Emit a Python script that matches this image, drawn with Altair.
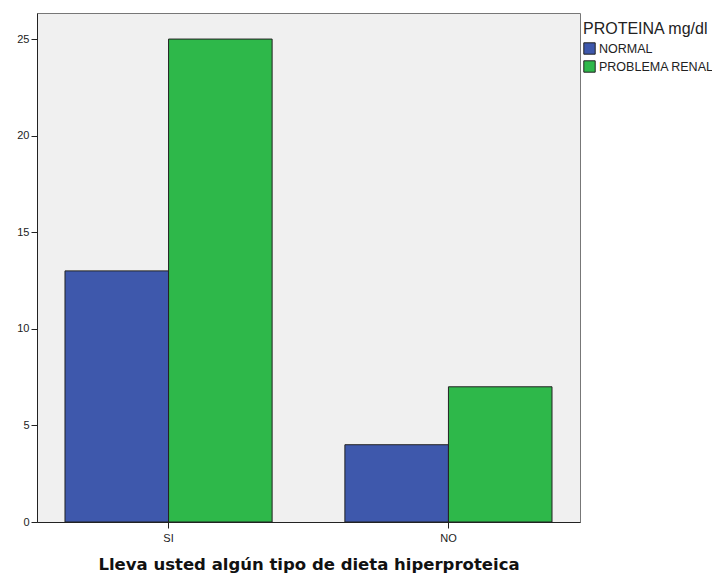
import altair as alt
import pandas as pd

categories = ["SI", "SI", "NO", "NO"]
groups = ["NORMAL", "PROBLEMA RENAL", "NORMAL", "PROBLEMA RENAL"]
counts = [13, 25, 4, 7]

df = pd.DataFrame({"dieta": categories, "proteina": groups, "recuento": counts})

font = "Liberation Sans"

chart = alt.Chart(df).mark_bar(stroke="#222222", strokeWidth=1).encode(
    x=alt.X("dieta:N", sort=["SI", "NO"],
            scale=alt.Scale(paddingInner=0.26, paddingOuter=0.1),
            axis=alt.Axis(title="Lleva usted algún tipo de dieta hiperproteica",
                          labelAngle=0, labelFontSize=11, labelColor="#222",
                          titleFont="DejaVu Sans", titleFontSize=16.5,
                          titleFontWeight="bold", titleColor="#111",
                          titlePadding=13, tickSize=6, tickColor="#222",
                          domainColor="#222", labelPadding=4)),
    xOffset=alt.XOffset("proteina:N", sort=["NORMAL", "PROBLEMA RENAL"]),
    y=alt.Y("recuento:Q", scale=alt.Scale(domain=[0, 26.35], nice=False),
            axis=alt.Axis(title=None, values=[0, 5, 10, 15, 20, 25], grid=False,
                          labelFontSize=11, labelColor="#222", tickSize=6,
                          tickColor="#222", domainColor="#222", labelPadding=2)),
    color=alt.Color("proteina:N", sort=["NORMAL", "PROBLEMA RENAL"],
                    scale=alt.Scale(domain=["NORMAL", "PROBLEMA RENAL"],
                                    range=["#3e58ac", "#2eb84a"]),
                    legend=alt.Legend(title="PROTEINA mg/dl", orient="none",
                                      legendX=546, legendY=8,
                                      titleFontSize=16, titleFontWeight="normal",
                                      titleColor="#222", labelFontSize=12.5,
                                      labelColor="#222", symbolType="square",
                                      symbolSize=130, symbolStrokeColor="#222",
                                      symbolStrokeWidth=1, rowPadding=1,
                                      titlePadding=5, labelOffset=3,
                                      labelLimit=200, titleLimit=200)),
).properties(
    width=543, height=509,
    autosize=alt.AutoSizeParams(type="none"),
    padding={"left": 29, "top": 5, "right": 132, "bottom": 54},
).configure(font=font, background="white").configure_view(
    fill="#f0f0f0", stroke="#777777", strokeWidth=1
)

chart.save("out.html", embed_options={"renderer": "svg", "actions": False})
